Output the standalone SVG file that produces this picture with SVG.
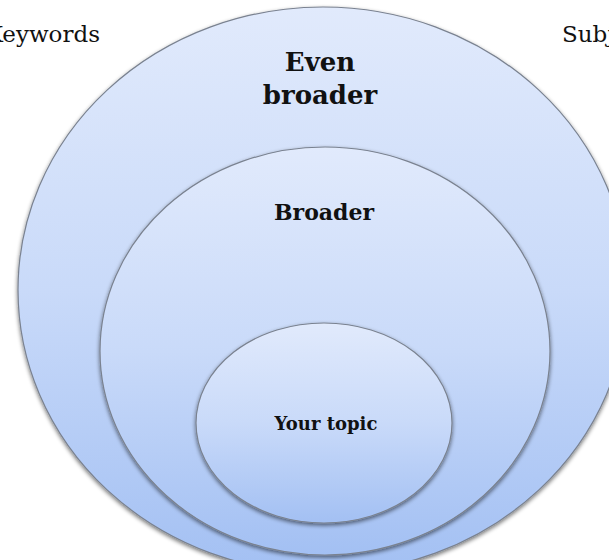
<svg xmlns="http://www.w3.org/2000/svg" width="609" height="560" viewBox="0 0 609 560">
<defs>
<linearGradient id="g" x1="0" y1="0" x2="0" y2="1">
<stop offset="0" stop-color="#e1eafc"/>
<stop offset="0.5" stop-color="#c9daf9"/>
<stop offset="1" stop-color="#a3c0f3"/>
</linearGradient>
<filter id="sh" x="-10%" y="-10%" width="120%" height="125%">
<feGaussianBlur in="SourceAlpha" stdDeviation="2"/>
<feOffset dx="0" dy="2" result="b"/>
<feComponentTransfer><feFuncA type="linear" slope="0.55"/></feComponentTransfer>
<feMerge><feMergeNode/><feMergeNode in="SourceGraphic"/></feMerge>
</filter>
</defs>
<style>
.e{fill:url(#g);stroke:#7a8290;stroke-width:1.2;filter:url(#sh)}
.t{font-family:"DejaVu Serif","Liberation Serif",serif;fill:#111;text-anchor:middle;font-weight:bold}
.l{font-family:"DejaVu Serif","Liberation Serif",serif;fill:#111;font-size:23px}
</style>
<text class="l" x="100" y="42" text-anchor="end">Keywords</text>
<text class="l" x="562" y="42">Subjects</text>
<g id="even-broader">
<ellipse class="e" cx="323" cy="290" rx="305" ry="283"/>
<text class="t" x="320" y="71" font-size="26">Even</text>
<text class="t" x="320" y="104" font-size="26">broader</text>
</g>
<g id="broader">
<ellipse class="e" cx="325" cy="351" rx="225" ry="204"/>
<text class="t" x="324" y="220" font-size="22">Broader</text>
</g>
<g id="your-topic">
<ellipse class="e" cx="324" cy="423" rx="128" ry="100"/>
<text class="t" x="326" y="430" font-size="18">Your topic</text>
</g>
<g id="connectors"/>
</svg>
